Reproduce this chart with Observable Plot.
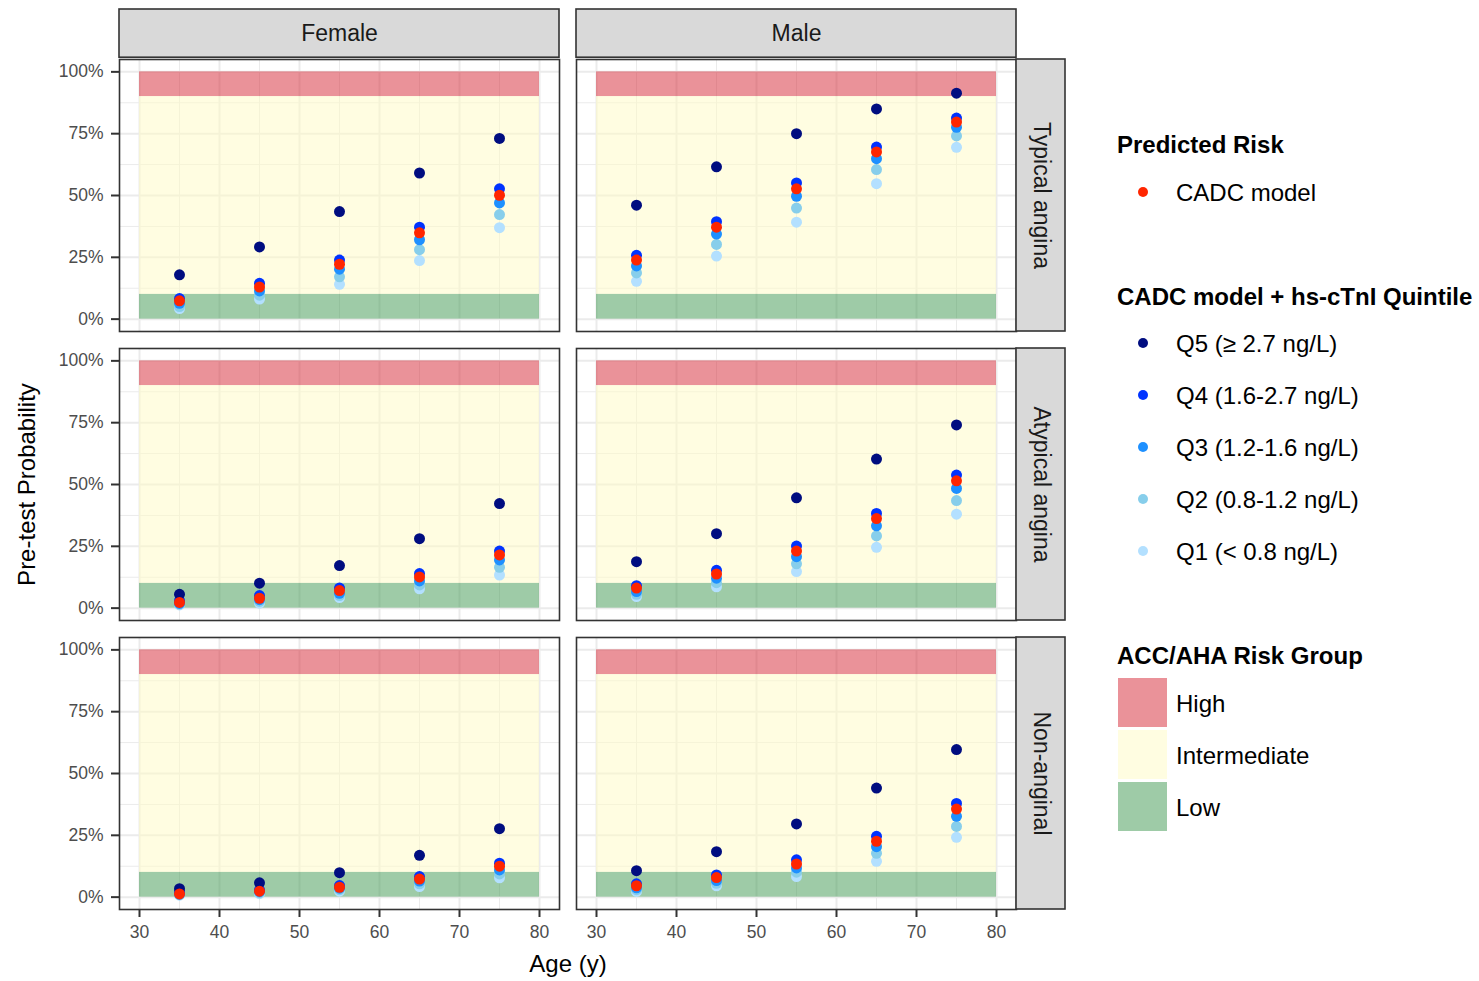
<!DOCTYPE html>
<html><head><meta charset="utf-8">
<script src="https://cdn.jsdelivr.net/npm/d3@7"></script>
<script src="https://cdn.jsdelivr.net/npm/@observablehq/plot@0.6"></script>
<style>
body{margin:0;background:#fff;font-family:"Liberation Sans",Arial,sans-serif;}
#wrap{position:relative;width:1479px;height:981px;overflow:hidden;}
#chart{position:absolute;left:0;top:0;}
.lg{position:absolute;white-space:nowrap;color:#000;line-height:1;transform:translateY(-50%);}
.lt{font-weight:bold;font-size:24px;}
.ll{font-size:24px;}
.dot{position:absolute;width:10px;height:10px;border-radius:50%;transform:translate(-50%,-50%);}
.key{position:absolute;width:49px;height:49px;}
</style></head>
<body><div id="wrap"><div id="chart"></div><div id="legend"></div></div>
<script>
// ---------- data ----------
const ages = [35, 45, 55, 65, 75];
const sexes = ["Female", "Male"];
const pains = ["Typical angina", "Atypical angina", "Non-anginal"];
// row order inside each panel matrix
const seriesKeys = ["Q5", "Q4", "CADC", "Q3", "Q2", "Q1"];
const drawOrder = ["Q1", "Q2", "Q3", "Q4", "Q5", "CADC"];
const seriesLabels = {
  CADC: "CADC model",
  Q5: "Q5 (\u2265 2.7 ng/L)",
  Q4: "Q4 (1.6-2.7 ng/L)",
  Q3: "Q3 (1.2-1.6 ng/L)",
  Q2: "Q2 (0.8-1.2 ng/L)",
  Q1: "Q1 (< 0.8 ng/L)"
};
const seriesColors = {
  Q5: "#000d80", Q4: "#0033ff", Q3: "#1e90ff", Q2: "#87ceeb", Q1: "#b3e0ff", CADC: "#ff2600"
};

const femaleTypical = [
  [17.9, 29.2, 43.5, 59.1, 73.1],
  [8.3, 14.5, 23.9, 37.2, 52.7],
  [7.4, 13.0, 22.2, 34.9, 50.1],
  [6.4, 11.4, 20.2, 32.1, 47.0],
  [5.1, 9.7, 17.1, 28.1, 42.3],
  [4.3, 8.1, 14.1, 23.7, 37.0]
];
const maleTypical = [
  [46.1, 61.6, 75.0, 85.0, 91.4],
  [25.8, 39.4, 55.1, 69.6, 81.3],
  [23.9, 37.2, 52.7, 67.6, 79.7],
  [21.5, 34.4, 49.7, 64.9, 77.6],
  [18.7, 30.2, 44.9, 60.5, 74.1],
  [15.3, 25.5, 39.2, 54.8, 69.5]
];
const femaleAtypical = [
  [5.6, 10.1, 17.2, 28.1, 42.3],
  [3.0, 5.1, 8.1, 14.0, 23.1],
  [2.3, 4.0, 7.1, 12.6, 21.5],
  [1.9, 3.4, 6.0, 11.0, 19.5],
  [1.6, 2.7, 5.1, 9.4, 16.5],
  [1.3, 2.0, 4.3, 7.8, 13.4]
];
const maleAtypical = [
  [18.8, 30.1, 44.6, 60.3, 74.1],
  [9.1, 15.3, 25.1, 38.3, 53.8],
  [8.1, 13.8, 23.1, 36.2, 51.5],
  [6.7, 12.1, 20.8, 33.3, 48.4],
  [5.6, 10.3, 17.9, 29.2, 43.5],
  [4.7, 8.6, 14.8, 24.6, 38.0]
];
const femaleNonAnginal = [
  [3.4, 5.8, 9.9, 16.9, 27.7],
  [2.0, 2.9, 4.7, 8.3, 13.7],
  [1.3, 2.4, 4.0, 7.3, 12.5],
  [1.2, 2.2, 3.6, 6.5, 11.0],
  [1.0, 1.8, 3.0, 5.4, 9.4],
  [0.8, 1.4, 2.4, 4.3, 7.8]
];
const maleNonAnginal = [
  [10.7, 18.4, 29.6, 44.1, 59.7],
  [5.4, 9.0, 15.1, 24.6, 37.9],
  [4.6, 7.9, 13.4, 22.6, 35.6],
  [3.8, 6.7, 11.8, 20.4, 32.7],
  [3.0, 5.6, 10.1, 17.7, 28.6],
  [2.3, 4.6, 8.3, 14.5, 24.2]
];

const riskGroups = ["High", "Intermediate", "Low"];
const riskLower = [90, 10, 0];
const riskUpper = [100, 90, 10];
const riskFill = ["#d52533", "#fffbc3", "#3d974f"];
const bandAges = [30, 80];

const xMajor = [30, 40, 50, 60, 70, 80];
const xMinor = [35, 45, 55, 65, 75];
const yMajor = [0, 25, 50, 75, 100];
const yMinor = [12.5, 37.5, 62.5, 87.5];

// ---------- table ----------
const panels = [
  ["Female", "Typical angina", femaleTypical],
  ["Male", "Typical angina", maleTypical],
  ["Female", "Atypical angina", femaleAtypical],
  ["Male", "Atypical angina", maleAtypical],
  ["Female", "Non-anginal", femaleNonAnginal],
  ["Male", "Non-anginal", maleNonAnginal]
];
const rows = [];
for (const s of drawOrder) {
  const k = seriesKeys.indexOf(s);
  for (const [sex, pain, m] of panels) {
    m[k].forEach((v, i) => rows.push({sex, pain, age: ages[i], p: v, series: s}));
  }
}

// ---------- layout ----------
const W = 1090, H = 981, mL = 119, mR = 74, mT = 57.6, mB = 70.6;
const fxPad = 17 / 457, fyPad = 17.2 / 290;
const panelW = (W - mL - mR) / (2 - fxPad) * (1 - fxPad);
const panelH = (H - mT - mB) / (3 - fyPad) * (1 - fyPad);
const strip = 49;

const plot = Plot.plot({
  width: W, height: H,
  marginLeft: mL, marginRight: mR, marginTop: mT, marginBottom: mB,
  style: {fontFamily: '"Liberation Sans", Arial, sans-serif', background: "#fff", overflow: "visible"},
  x: {domain: [27.5, 82.5]},
  y: {domain: [-5, 105]},
  fx: {domain: sexes, paddingInner: fxPad, paddingOuter: 0, axis: null},
  fy: {domain: pains, paddingInner: fyPad, paddingOuter: 0, axis: null},
  color: {domain: drawOrder, range: drawOrder.map(s => seriesColors[s])},
  marks: [
    Plot.ruleX(xMinor, {stroke: "#ebebeb", strokeWidth: 1}),
    Plot.ruleY(yMinor, {stroke: "#ebebeb", strokeWidth: 1}),
    Plot.ruleX(xMajor, {stroke: "#ebebeb", strokeWidth: 2}),
    Plot.ruleY(yMajor, {stroke: "#ebebeb", strokeWidth: 2}),
    ...riskGroups.map((g, i) => Plot.rect([g], {
      x1: () => bandAges[0], x2: () => bandAges[1],
      y1: () => riskLower[i], y2: () => riskUpper[i],
      fill: riskFill[i], fillOpacity: 0.5
    })),
    Plot.dot(rows, {x: "age", y: "p", fx: "sex", fy: "pain", fill: "series", r: 5.5}),
    Plot.frame({stroke: "#333", strokeWidth: 1.6}),
    Plot.axisY(yMajor, {anchor: "left", facetAnchor: "left", tickSize: 8, tickPadding: 8,
      tickFormat: d => d + "%", fontSize: 17.5, stroke: "#333", fill: "#4d4d4d", strokeWidth: 2, label: null}),
    Plot.axisX(xMajor, {anchor: "bottom", facetAnchor: "bottom", tickSize: 8, tickPadding: 8,
      fontSize: 17.5, stroke: "#333", fill: "#4d4d4d", strokeWidth: 2, label: null}),
    // strips
    Plot.rect(sexes, {fx: d => d, fy: () => pains[0], fill: "#d9d9d9", stroke: "#333", strokeWidth: 1.6,
      insetBottom: panelH - strip, dy: -(strip + 1)}),
    Plot.text(sexes, {fx: d => d, fy: () => pains[0], text: d => d, frameAnchor: "top",
      textAnchor: "middle", lineAnchor: "middle", dy: -(strip / 2 + 1), fontSize: 23, fill: "#1a1a1a"}),
    Plot.rect(pains, {fy: d => d, fx: () => sexes[1], fill: "#d9d9d9", stroke: "#333", strokeWidth: 1.6,
      insetLeft: panelW - strip, dx: strip}),
    Plot.text(pains, {fy: d => d, fx: () => sexes[1], text: d => d, frameAnchor: "right",
      textAnchor: "middle", lineAnchor: "middle", rotate: 90, dx: strip / 2, fontSize: 23, fill: "#1a1a1a"}),
    // axis titles
    Plot.text(["Pre-test Probability"], {fx: () => sexes[0], fy: () => pains[1], text: d => d,
      frameAnchor: "left", textAnchor: "middle", lineAnchor: "middle", rotate: -90, dx: -92, fontSize: 24, fill: "#000"}),
    Plot.text(["Age (y)"], {fx: () => sexes[0], fy: () => pains[2], text: d => d,
      frameAnchor: "bottom-right", textAnchor: "middle", lineAnchor: "middle", dx: 8.5, dy: 55, fontSize: 24, fill: "#000"})
  ]
});
document.getElementById("chart").appendChild(plot);

// ---------- legend ----------
const legend = document.getElementById("legend");
const LX = 1117;
function addText(txt, cls, left, cy) {
  const d = document.createElement("div");
  d.className = "lg " + cls;
  d.textContent = txt;
  d.style.left = left + "px";
  d.style.top = cy + "px";
  legend.appendChild(d);
}
function addDot(color, cx, cy) {
  const d = document.createElement("div");
  d.className = "dot";
  d.style.background = color;
  d.style.left = cx + "px";
  d.style.top = cy + "px";
  legend.appendChild(d);
}
addText("Predicted Risk", "lt", LX, 145);
addDot(seriesColors.CADC, LX + 26, 192);
addText(seriesLabels.CADC, "ll", LX + 59, 193);
addText("CADC model + hs-cTnI Quintile", "lt", LX, 297);
["Q5", "Q4", "Q3", "Q2", "Q1"].forEach((s, i) => {
  const cy = 343 + i * 52;
  addDot(seriesColors[s], LX + 26, cy);
  addText(seriesLabels[s], "ll", LX + 59, cy + 1);
});
addText("ACC/AHA Risk Group", "lt", LX, 656);
riskGroups.forEach((g, i) => {
  const k = document.createElement("div");
  k.className = "key";
  k.style.left = (LX + 1) + "px";
  k.style.top = (678 + i * 52) + "px";
  k.style.background = riskFill[i];
  k.style.opacity = 0.5;
  legend.appendChild(k);
  addText(g, "ll", LX + 59, 704 + i * 52);
});
</script>
</body></html>
